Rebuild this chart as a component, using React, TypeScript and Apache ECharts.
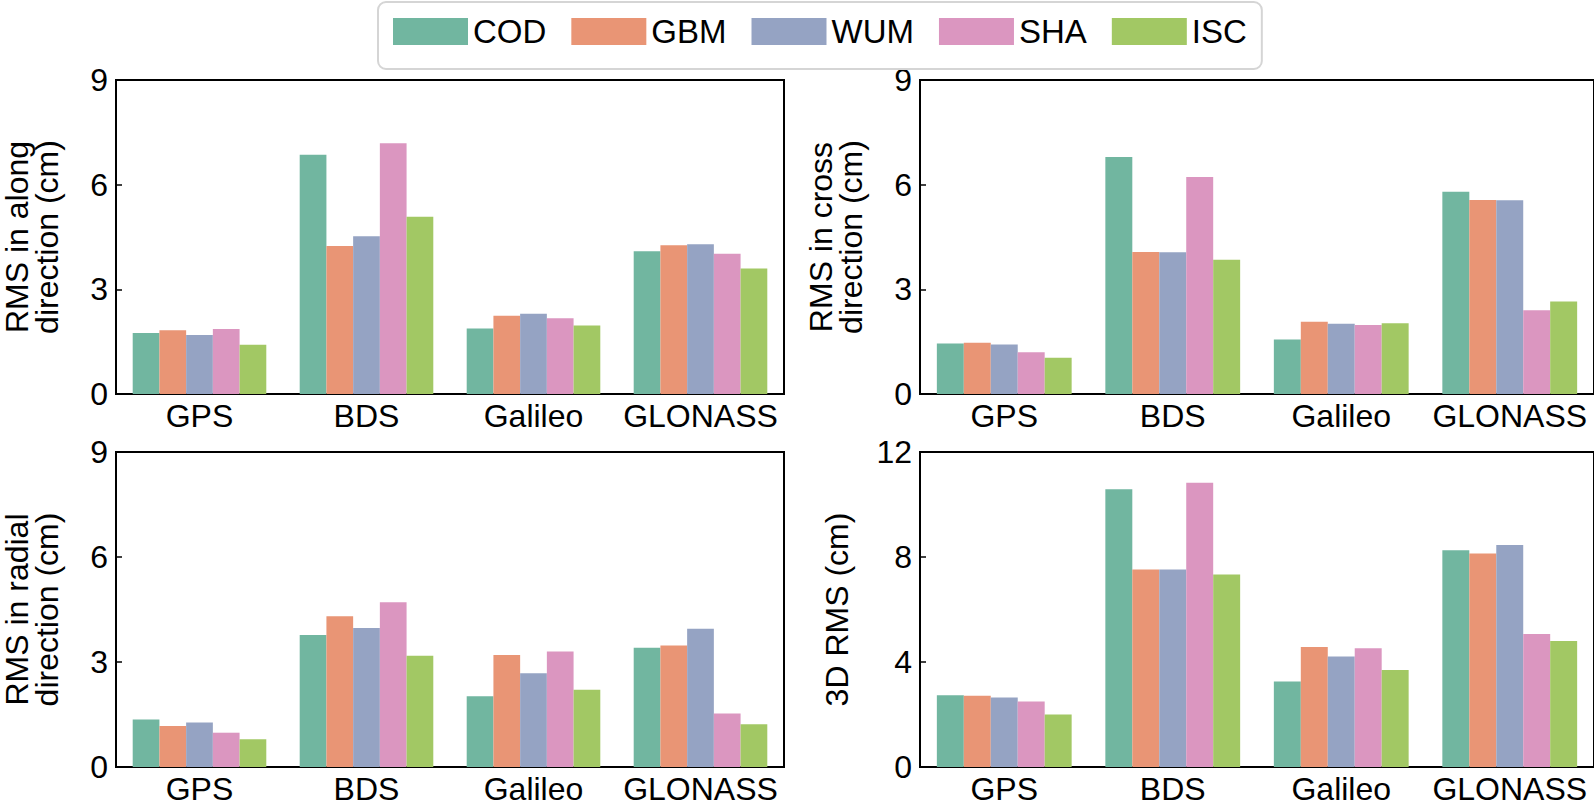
import React, { useEffect, useRef } from "react";
import * as echarts from "echarts";

const categories = ["GPS", "BDS", "Galileo", "GLONASS"];
const centers = ["COD", "GBM", "WUM", "SHA", "ISC"];
const colors = ["#71b6a0", "#e99575", "#95a3c3", "#db96c0", "#a2c864"];

// rows: COD, GBM, WUM, SHA, ISC ; columns: GPS, BDS, Galileo, GLONASS
const alongRms = [
  [1.75, 6.86, 1.88, 4.09],
  [1.83, 4.24, 2.24, 4.26],
  [1.69, 4.52, 2.3, 4.29],
  [1.86, 7.19, 2.17, 4.02],
  [1.41, 5.08, 1.96, 3.6],
];
const crossRms = [
  [1.45, 6.79, 1.56, 5.8],
  [1.47, 4.07, 2.07, 5.56],
  [1.42, 4.06, 2.01, 5.55],
  [1.2, 6.22, 1.98, 2.4],
  [1.04, 3.85, 2.03, 2.65],
];
const radialRms = [
  [1.36, 3.77, 2.02, 3.41],
  [1.17, 4.31, 3.2, 3.47],
  [1.27, 3.97, 2.68, 3.95],
  [0.98, 4.71, 3.3, 1.53],
  [0.79, 3.18, 2.21, 1.22],
];
const rms3d = [
  [2.73, 10.58, 3.26, 8.26],
  [2.71, 7.52, 4.57, 8.13],
  [2.65, 7.52, 4.21, 8.46],
  [2.5, 10.83, 4.52, 5.07],
  [2.0, 7.33, 3.7, 4.8],
];

const panelTitles = [
  "RMS in along\ndirection (cm)",
  "RMS in cross\ndirection (cm)",
  "RMS in radial\ndirection (cm)",
  "3D RMS (cm)",
];
const panelData = [alongRms, crossRms, radialRms, rms3d];
const yMax = [9, 9, 9, 12];
const yStep = [3, 3, 3, 4];

const FONT = "'Liberation Sans', Arial, Helvetica, sans-serif";
const FS = 32;

export default function App() {
  const ref = useRef<HTMLDivElement>(null);
  useEffect(() => {
    if (!ref.current) return;
    const chart = echarts.init(ref.current, null, { renderer: "svg" });
    const gridPos = [
      { left: 108, top: 80, width: 676, height: 314 },
      { left: 920, top: 80, width: 676, height: 314 },
      { left: 108, top: 452, width: 676, height: 315 },
      { left: 920, top: 452, width: 676, height: 315 },
    ];
    const grid = gridPos.map((g) => ({
      ...g,
      show: true,
      borderColor: "#000",
      borderWidth: 2,
      backgroundColor: "transparent",
    }));
    const xAxis = gridPos.map((_, i) => ({
      type: "category",
      gridIndex: i,
      data: categories,
      axisLine: { show: true, lineStyle: { color: "#000", width: 2 } },
      axisTick: { show: true, inside: true, alignWithLabel: true, length: 6, lineStyle: { color: "#000", width: 1.5 } },
      axisLabel: { color: "#000", fontSize: FS, fontFamily: FONT, margin: 6, interval: 0, hideOverlap: false },
      splitLine: { show: false },
    }));
    const yAxis = gridPos.map((_, i) => ({
      type: "value",
      gridIndex: i,
      min: 0,
      max: yMax[i],
      interval: yStep[i],
      name: panelTitles[i],
      nameLocation: "middle",
      nameGap: i === 3 ? 68 : 54,
      nameTextStyle: { color: "#000", fontSize: FS, fontFamily: FONT, lineHeight: 30 },
      axisLine: { show: true, lineStyle: { color: "#000", width: 2 } },
      axisTick: { show: true, inside: true, length: 6, lineStyle: { color: "#000", width: 1.5 } },
      axisLabel: { color: "#000", fontSize: FS, fontFamily: FONT, margin: 8 },
      splitLine: { show: false },
    }));
    const series: any[] = [];
    panelData.forEach((rows, p) => {
      rows.forEach((vals, c) => {
        series.push({
          type: "bar",
          name: centers[c],
          xAxisIndex: p,
          yAxisIndex: p,
          data: vals,
          barGap: "0%",
          barCategoryGap: "20%",
          itemStyle: { color: colors[c] },
          emphasis: { disabled: true },
        });
      });
    });
    chart.setOption({
      animation: false,
      backgroundColor: "#fff",
      textStyle: { fontFamily: FONT },
      legend: {
        data: centers.map((n) => ({ name: n, icon: "rect" })),
        left: 378,
        top: 2,
        orient: "horizontal",
        padding: [13, 15, 21, 15],
        itemWidth: 75,
        itemHeight: 27,
        itemGap: 25,
        selectedMode: false,
        borderColor: "#d5d5d5",
        borderWidth: 2,
        borderRadius: 8,
        textStyle: { color: "#000", fontSize: 33, fontFamily: FONT, lineHeight: 27 },
      },
      grid,
      xAxis,
      yAxis,
      series,
    });
    return () => chart.dispose();
  }, []);
  return (
    <div
      ref={ref}
      style={{ position: "fixed", left: 0, top: 0, width: 1594, height: 812, background: "#fff" }}
    />
  );
}
